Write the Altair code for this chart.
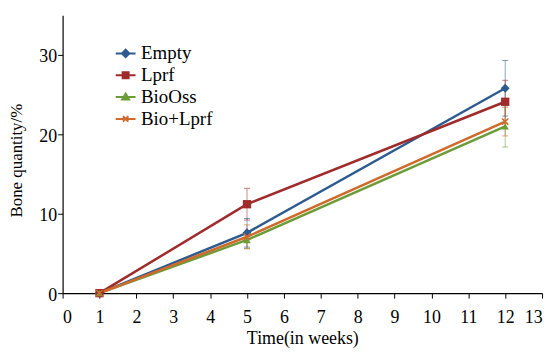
import altair as alt
import pandas as pd

series = ["Empty", "Lprf", "BioOss", "Bio+Lprf"]
weeks = [1, 5, 12]
empty_vals = [0, 7.6, 25.8]
empty_err = [0, 1.8, 3.5]
lprf_vals = [0, 11.2, 24.1]
lprf_err = [0, 2.0, 2.7]
bioss_vals = [0, 6.7, 21.0]
bioss_err = [0, 1.1, 2.6]
biolprf_vals = [0, 7.1, 21.6]
biolprf_err = [0, 1.5, 1.8]

colors = ["#2D5B90", "#A02B2B", "#6C9C38", "#CF6A2C"]
x_ticks = list(range(0, 14))
y_ticks = [0, 5, 10, 15, 20, 25, 30, 35]

rows = []
for s, vals, errs in [
    ("Empty", empty_vals, empty_err),
    ("Lprf", lprf_vals, lprf_err),
    ("BioOss", bioss_vals, bioss_err),
    ("Bio+Lprf", biolprf_vals, biolprf_err),
]:
    for w, v, e in zip(weeks, vals, errs):
        rows.append({"series": s, "week": w, "value": v, "err": e,
                     "lo": v - e, "hi": v + e})
df = pd.DataFrame(rows)

FONT = "Liberation Serif"
cscale = alt.Scale(domain=series, range=colors)

x_enc = alt.X("week:Q", scale=alt.Scale(domain=[0, 13], nice=False),
              axis=alt.Axis(values=x_ticks, grid=False, title="Time(in weeks)",
                            domainColor="black", tickColor="black", domainWidth=1.2,
                            tickSize=5, labelPadding=11, labelFont=FONT, labelFontSize=18,
                            labelColor="black", titleFont=FONT, titleFontSize=18,
                            titleFontWeight="normal", titleColor="black", titlePadding=3))
y_enc = alt.Y("value:Q", scale=alt.Scale(domain=[0, 35], nice=False),
              axis=alt.Axis(values=y_ticks, grid=False, title="Bone quantity/%",
                            domainColor="black", tickColor="black", domainWidth=1.2,
                            tickSize=5, labelPadding=1, labelOffset=2, labelFont=FONT,
                            labelFontSize=18, labelColor="black", titleFont=FONT,
                            titleFontSize=17, titleFontWeight="normal", titleColor="black",
                            titleX=-37, titleY=146, titleAlign="center",
                            titleBaseline="bottom", titleAngle=270))

# legend symbols: a short line with a (stroke-filled) marker on it
legend_paths = [
    "M-2,0L2,0M0,-0.75L0.75,0L0,0.75L-0.75,0ZM0,-0.35L0.35,0L0,0.35L-0.35,0Z",
    "M-2,0L2,0M-0.6,-0.6H0.6V0.6H-0.6ZM-0.25,-0.25H0.25V0.25H-0.25Z",
    "M-2,0L2,0M0,-0.7L0.7,0.5L-0.7,0.5ZM0,-0.2L0.25,0.25L-0.25,0.25Z",
    "M-2,0L2,0M-0.55,-0.55L0.55,0.55M0.55,-0.55L-0.55,0.55",
]
legend = alt.Legend(
    title=None, orient="none", legendX=54, legendY=29,
    labelFont=FONT, labelFontSize=19, labelColor="black", labelOffset=6,
    symbolSize=100, rowPadding=2, symbolStrokeWidth=2, symbolOpacity=1,
)
col = alt.Color("series:N", scale=cscale, legend=legend)

base = alt.Chart(df)

err_df = base.transform_filter("datum.err > 0")
err_rule = err_df.mark_rule(strokeWidth=1, opacity=0.55).encode(
    x=x_enc, y=alt.Y("lo:Q"), y2="hi:Q", color=col)
cap_lo = err_df.mark_tick(orient="horizontal", size=6, thickness=1, opacity=0.6).encode(
    x=x_enc, y=alt.Y("lo:Q"), color=col)
cap_hi = err_df.mark_tick(orient="horizontal", size=6, thickness=1, opacity=0.6).encode(
    x=x_enc, y=alt.Y("hi:Q"), color=col)

lines = base.mark_line(strokeWidth=2.5).encode(x=x_enc, y=y_enc, color=col,
                                                order=alt.Order("week:Q"))

marker_style = {
    "Empty": dict(shape="diamond", filled=True, size=80),
    "Lprf": dict(shape="square", filled=True, size=70),
    "BioOss": dict(shape="triangle-up", filled=True, size=55),
    "Bio+Lprf": dict(shape="M-1,-1L1,1M1,-1L-1,1", filled=False, size=40, strokeWidth=1.5),
}
marker_layers = []
for s in series:
    st = marker_style[s]
    marker_layers.append(
        base.transform_filter(alt.datum.series == s)
        .mark_point(opacity=1, **st)
        .encode(x=x_enc, y=y_enc, color=col)
    )

legend_layer = base.mark_point(filled=False, opacity=0, strokeWidth=2).encode(
    x=x_enc, y=y_enc,
    color=col,
    shape=alt.Shape("series:N", scale=alt.Scale(domain=series, range=legend_paths),
                    legend=legend),
)

chart = alt.layer(err_rule, cap_lo, cap_hi, lines, *marker_layers, legend_layer).properties(
    width=483, height=280,
    autosize=alt.AutoSizeParams(type="none"),
    padding={"left": 55, "top": 6, "right": 10, "bottom": 54},
    background="white",
).configure_view(stroke=None)

chart.save("out.html", embed_options={"renderer": "svg", "actions": False})
